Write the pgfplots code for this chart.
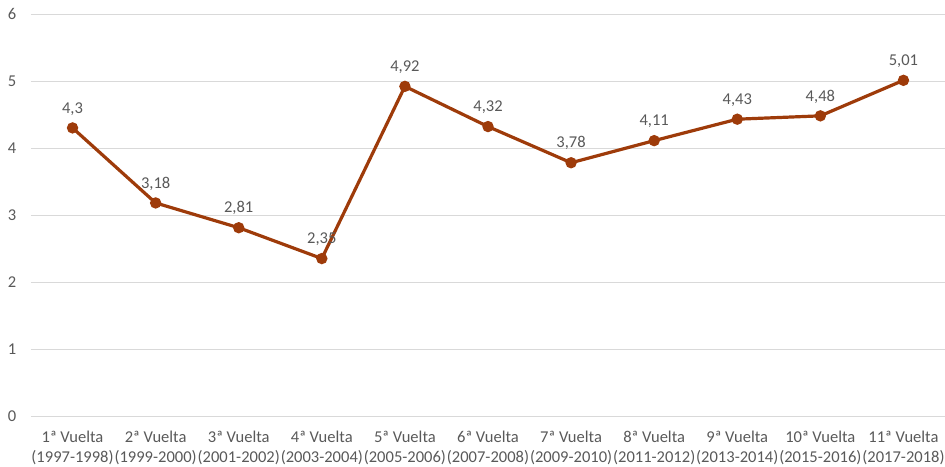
\documentclass[border=0pt]{standalone}
\usepackage{pgfplots}
\pgfplotsset{compat=1.18}
\usepackage{fontspec}
\setmainfont{Carlito}
\definecolor{linec}{HTML}{9E3B0A}
\definecolor{txt}{HTML}{595959}
\definecolor{grid}{HTML}{D9D9D9}
\begin{document}
\begin{tikzpicture}[x=0.75pt,y=0.75pt]
\useasboundingbox (-31,-51) rectangle (914,416);
\begin{axis}[
  at={(0,0)}, anchor=south west,
  scale only axis, width=685.5pt, height=301.5pt,
  xmin=-0.5, xmax=10.5, ymin=0, ymax=6,
  ytick={0,1,2,3,4,5,6},
  xtick={0,...,10},
  xticklabels={{1ª Vuelta\\(1997-1998)},{2ª Vuelta\\(1999-2000)},{3ª Vuelta\\(2001-2002)},{4ª Vuelta\\(2003-2004)},{5ª Vuelta\\(2005-2006)},{6ª Vuelta\\(2007-2008)},{7ª Vuelta\\(2009-2010)},{8ª Vuelta\\(2011-2012)},{9ª Vuelta\\(2013-2014)},{10ª Vuelta\\(2015-2016)},{11ª Vuelta\\(2017-2018)}},
  /pgf/number format/assume math mode=true,
  axis line style={draw=none},
  tick style={draw=none},
  ymajorgrids, major grid style={draw=grid, line width=0.75pt},
  ticklabel style={font=\fontsize{12.4}{15.5}\selectfont, text=txt},
  yticklabel style={anchor=center, xshift=-14.25pt},
  xticklabel style={align=center, anchor=north, yshift=-7.5pt},
  clip=false,
  nodes near coords,
  point meta=explicit symbolic,
  every node near coord/.append style={font=\fontsize{12.4}{15}\selectfont, text=txt, yshift=5pt},
]
\addplot[color=linec, line width=2.4pt, mark=*, mark size=3pt, mark options={fill=linec, draw=linec}]
table[x=x, y=y, meta=lab] {
x y lab
0 4.30 4,3
1 3.18 3,18
2 2.81 2,81
3 2.35 2,35
4 4.92 4,92
5 4.32 4,32
6 3.78 3,78
7 4.11 4,11
8 4.43 4,43
9 4.48 4,48
10 5.01 5,01
};
\end{axis}
\end{tikzpicture}
\end{document}
